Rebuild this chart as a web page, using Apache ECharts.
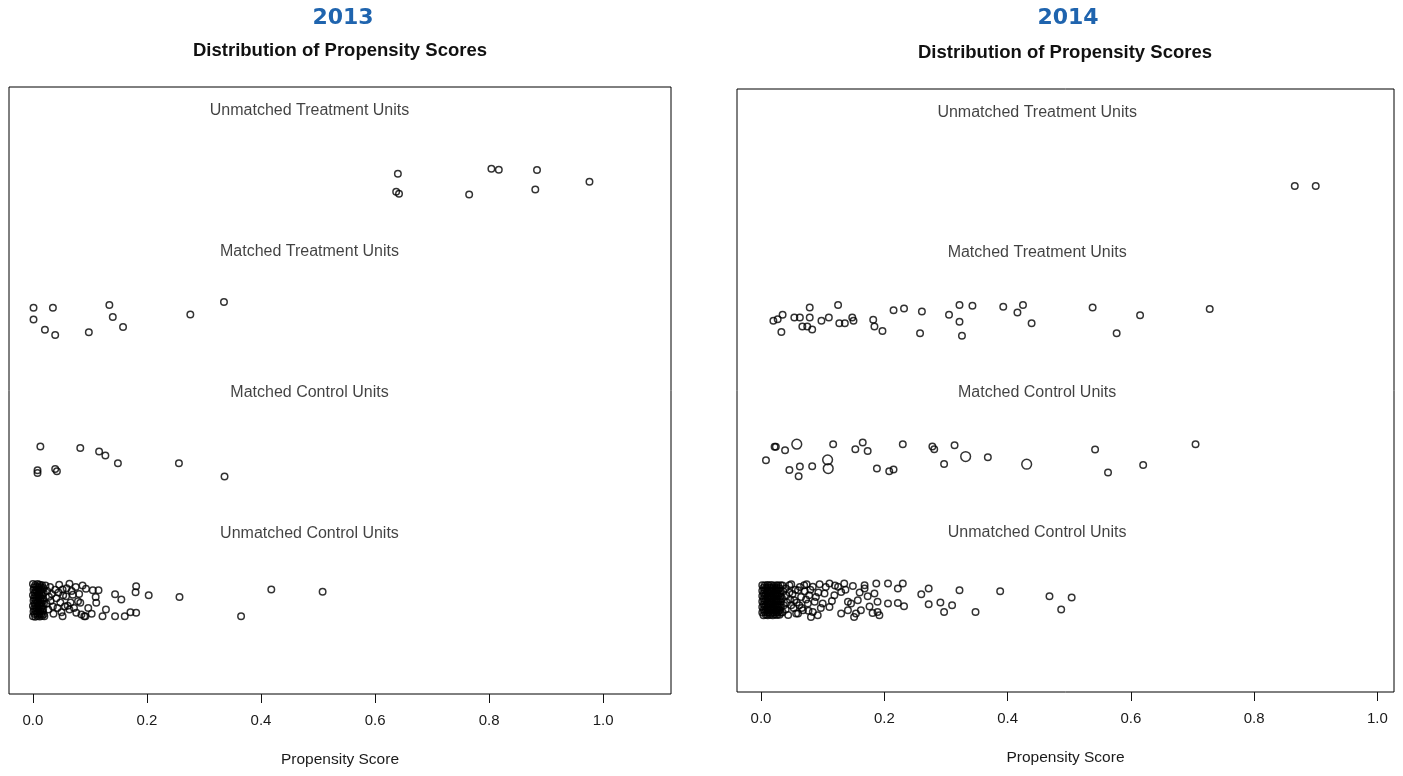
<!DOCTYPE html>
<html>
<head>
<meta charset="utf-8">
<script src="https://cdn.jsdelivr.net/npm/echarts@6/dist/echarts.min.js"></script>
<style>
  html, body { margin: 0; padding: 0; background: #fff; }
  #chart { width: 1403px; height: 776px; }
</style>
</head>
<body>
<div id="chart"></div>
<script>
// Propensity score jitter plots, one panel per year.
// Each point: [propensity score, vertical jitter offset from its group row, (optional) weight]

const years = ['2013', '2014'];
const xTicks = [0, 0.2, 0.4, 0.6, 0.8, 1.0];
const groupNames = ['Unmatched Treatment Units', 'Matched Treatment Units', 'Matched Control Units', 'Unmatched Control Units'];
const groupRows = [4, 3, 2, 1];

// ---------- 2013 ----------
const unmatchedTreat2013 = [
  [0.640, 0.021], [0.637, -0.106], [0.642, -0.121], [0.765, -0.125], [0.804, 0.057],
  [0.817, 0.050], [0.884, 0.048], [0.881, -0.090], [0.976, -0.035]
];
const matchedTreat2013 = [
  [0.001, 0.071], [0.035, 0.071], [0.001, -0.012], [0.021, -0.085], [0.039, -0.123],
  [0.098, -0.104], [0.134, 0.090], [0.140, 0.005], [0.158, -0.066], [0.276, 0.023], [0.335, 0.111]
];
const matchedCtrl2013 = [
  [0.013, 0.087], [0.083, 0.076], [0.116, 0.050], [0.127, 0.023], [0.149, -0.033],
  [0.256, -0.033], [0.336, -0.126], [0.008, -0.083], [0.008, -0.101], [0.039, -0.073], [0.042, -0.090]
];
const unmatchedCtrl2013 = [
  // dense core near zero
  [0.000, 0.110], [0.004, 0.104], [0.008, 0.111], [0.012, 0.106], [0.016, 0.101],
  [0.002, 0.088], [0.006, 0.091], [0.010, 0.085], [0.014, 0.089], [0.018, 0.083],
  [0.001, 0.069], [0.005, 0.066], [0.009, 0.072], [0.013, 0.064], [0.017, 0.070],
  [0.003, 0.049], [0.007, 0.053], [0.011, 0.046], [0.015, 0.051], [0.019, 0.044],
  [0.000, 0.031], [0.004, 0.028], [0.008, 0.033], [0.012, 0.026], [0.016, 0.030],
  [0.002, 0.011], [0.006, 0.014], [0.010, 0.008], [0.014, 0.012], [0.018, 0.006],
  [0.001, -0.008], [0.005, -0.005], [0.009, -0.011], [0.013, -0.006], [0.017, -0.010],
  [0.003, -0.027], [0.007, -0.024], [0.011, -0.030], [0.015, -0.025], [0.019, -0.029],
  [0.000, -0.046], [0.004, -0.043], [0.008, -0.049], [0.012, -0.044], [0.016, -0.047],
  [0.002, -0.065], [0.006, -0.062], [0.010, -0.068], [0.014, -0.063], [0.018, -0.066],
  [0.001, -0.084], [0.005, -0.081], [0.009, -0.087], [0.013, -0.082], [0.017, -0.085],
  [0.003, -0.102], [0.007, -0.099], [0.011, -0.105], [0.015, -0.100], [0.019, -0.104],
  [0.000, -0.118], [0.004, -0.121], [0.008, -0.116], [0.012, -0.120], [0.016, -0.117],
  // fringe
  [0.022, 0.100], [0.025, 0.060], [0.028, 0.020], [0.024, -0.030], [0.027, -0.070],
  [0.030, 0.090], [0.033, 0.040], [0.031, -0.010], [0.035, -0.050], [0.036, -0.100],
  [0.039, 0.070], [0.041, 0.010], [0.043, -0.060], [0.045, 0.050], [0.048, -0.020],
  [0.050, -0.090], [0.053, 0.030], [0.056, -0.050], [0.059, 0.080], [0.066, -0.020],
  [0.072, -0.060], [0.068, 0.060], [0.075, 0.090], [0.081, 0.040], [0.087, 0.100],
  [0.097, -0.060], [0.103, -0.100],
  // tail
  [0.064, 0.113], [0.093, 0.076], [0.105, 0.066], [0.115, 0.066], [0.110, 0.019],
  [0.111, -0.023], [0.083, -0.023], [0.144, 0.038], [0.155, 0.000], [0.181, 0.094],
  [0.180, 0.052], [0.203, 0.030], [0.257, 0.019], [0.418, 0.071], [0.508, 0.055],
  [0.365, -0.118], [0.122, -0.118], [0.128, -0.071], [0.144, -0.118], [0.161, -0.118],
  [0.171, -0.090], [0.181, -0.094], [0.090, -0.118], [0.076, -0.094], [0.052, -0.118],
  [0.064, -0.071], [0.079, -0.012], [0.070, 0.035], [0.058, 0.023], [0.052, 0.071],
  [0.046, 0.106], [0.061, -0.043], [0.085, -0.106], [0.092, -0.118], [0.020, -0.118]
];

// ---------- 2014 ----------
const unmatchedTreat2014 = [
  [0.866, -0.055], [0.900, -0.055]
];
const matchedTreat2014 = [
  [0.020, -0.019], [0.027, -0.007], [0.035, 0.024], [0.033, -0.098], [0.054, 0.005],
  [0.063, 0.005], [0.079, 0.076], [0.079, 0.005], [0.067, -0.059], [0.075, -0.059],
  [0.083, -0.081], [0.098, -0.019], [0.110, 0.005], [0.125, 0.095], [0.127, -0.036],
  [0.136, -0.036], [0.148, 0.005], [0.150, -0.019], [0.182, -0.012], [0.184, -0.059],
  [0.197, -0.091], [0.215, 0.057], [0.232, 0.069], [0.261, 0.048], [0.258, -0.107],
  [0.305, 0.024], [0.322, 0.095], [0.343, 0.088], [0.322, -0.026], [0.326, -0.126],
  [0.393, 0.081], [0.425, 0.095], [0.416, 0.041], [0.439, -0.036], [0.538, 0.076],
  [0.615, 0.021], [0.577, -0.107], [0.728, 0.066]
];
const matchedCtrl2014 = [
  [0.022, 0.081, 1], [0.024, 0.081, 1], [0.039, 0.057, 1], [0.058, 0.100, 1.5], [0.117, 0.100, 1],
  [0.153, 0.064, 1], [0.165, 0.112, 1], [0.173, 0.052, 1], [0.230, 0.100, 1], [0.278, 0.084, 1],
  [0.281, 0.064, 1], [0.314, 0.093, 1], [0.542, 0.062, 1], [0.705, 0.100, 1], [0.008, -0.014, 1],
  [0.108, -0.012, 1.5], [0.109, -0.074, 1.5], [0.046, -0.084, 1], [0.063, -0.059, 1], [0.061, -0.129, 1],
  [0.083, -0.057, 1], [0.188, -0.074, 1], [0.208, -0.093, 1], [0.215, -0.081, 1], [0.297, -0.041, 1],
  [0.332, 0.012, 1.5], [0.368, 0.007, 1], [0.431, -0.043, 1.5], [0.563, -0.102, 1], [0.620, -0.048, 1]
];
const unmatchedCtrl2014 = [
  // dense core near zero
  [0.002, 0.093], [0.006, 0.090], [0.010, 0.095], [0.013, 0.091], [0.017, 0.094], [0.021, 0.089], [0.025, 0.093], [0.028, 0.090], [0.032, 0.092],
  [0.004, 0.074], [0.008, 0.071], [0.011, 0.076], [0.015, 0.072], [0.019, 0.075], [0.023, 0.070], [0.026, 0.074], [0.030, 0.071],
  [0.002, 0.054], [0.006, 0.057], [0.010, 0.052], [0.013, 0.055], [0.017, 0.051], [0.021, 0.056], [0.025, 0.053], [0.028, 0.057], [0.032, 0.052],
  [0.004, 0.035], [0.008, 0.032], [0.011, 0.037], [0.015, 0.033], [0.019, 0.036], [0.023, 0.031], [0.026, 0.035], [0.030, 0.032],
  [0.002, 0.015], [0.006, 0.018], [0.010, 0.013], [0.013, 0.016], [0.017, 0.012], [0.021, 0.017], [0.025, 0.014], [0.028, 0.018], [0.032, 0.013],
  [0.004, -0.004], [0.008, -0.007], [0.011, -0.002], [0.015, -0.006], [0.019, -0.003], [0.023, -0.008], [0.026, -0.004], [0.030, -0.007],
  [0.002, -0.024], [0.006, -0.021], [0.010, -0.026], [0.013, -0.023], [0.017, -0.027], [0.021, -0.022], [0.025, -0.025], [0.028, -0.021], [0.032, -0.026],
  [0.004, -0.043], [0.008, -0.046], [0.011, -0.041], [0.015, -0.045], [0.019, -0.042], [0.023, -0.047], [0.026, -0.043], [0.030, -0.046],
  [0.002, -0.063], [0.006, -0.060], [0.010, -0.065], [0.013, -0.062], [0.017, -0.066], [0.021, -0.061], [0.025, -0.064], [0.028, -0.060], [0.032, -0.065],
  [0.004, -0.082], [0.008, -0.085], [0.011, -0.080], [0.015, -0.084], [0.019, -0.081], [0.023, -0.086], [0.026, -0.082], [0.030, -0.085],
  [0.002, -0.102], [0.006, -0.099], [0.010, -0.104], [0.013, -0.101], [0.017, -0.105], [0.021, -0.100], [0.025, -0.103], [0.028, -0.099], [0.032, -0.104],
  [0.004, -0.121], [0.008, -0.118], [0.011, -0.122], [0.015, -0.119], [0.019, -0.121], [0.023, -0.117], [0.026, -0.120], [0.030, -0.118],
  // fringe
  [0.035, 0.090], [0.036, 0.050], [0.034, 0.000], [0.037, -0.050], [0.035, -0.100],
  [0.040, 0.070], [0.041, 0.020], [0.042, -0.030], [0.040, -0.080], [0.044, -0.120],
  [0.046, 0.040], [0.047, -0.010], [0.049, 0.100], [0.051, 0.030], [0.053, -0.070],
  [0.056, 0.060], [0.058, -0.030], [0.060, -0.110], [0.063, 0.080], [0.066, -0.070],
  [0.071, 0.050], [0.073, -0.010], [0.074, 0.100], [0.077, -0.090], [0.080, 0.060],
  [0.093, 0.040], [0.097, -0.070], [0.105, 0.080], [0.115, -0.020], [0.120, 0.090],
  [0.137, 0.060], [0.160, 0.040], [0.176, -0.060],
  // tail
  [0.046, 0.093], [0.060, 0.057], [0.070, 0.093], [0.084, 0.081], [0.095, 0.100],
  [0.111, 0.105], [0.125, 0.081], [0.135, 0.105], [0.149, 0.088], [0.168, 0.093],
  [0.187, 0.105], [0.206, 0.105], [0.230, 0.105], [0.222, 0.069], [0.168, 0.069],
  [0.130, 0.045], [0.119, 0.021], [0.103, 0.034], [0.089, 0.009], [0.078, 0.021],
  [0.065, 0.009], [0.054, -0.014], [0.049, -0.050], [0.062, -0.050], [0.076, -0.038],
  [0.087, -0.026], [0.100, -0.038], [0.111, -0.062], [0.084, -0.098], [0.081, -0.134],
  [0.092, -0.121], [0.068, -0.086], [0.057, -0.109], [0.130, -0.109], [0.141, -0.086],
  [0.146, -0.038], [0.157, -0.014], [0.141, -0.026], [0.154, -0.109], [0.151, -0.134],
  [0.162, -0.086], [0.173, 0.014], [0.184, 0.034], [0.189, -0.026], [0.189, -0.098],
  [0.192, -0.121], [0.206, -0.038], [0.222, -0.034], [0.232, -0.057], [0.181, -0.105],
  [0.260, 0.029], [0.272, 0.069], [0.272, -0.043], [0.291, -0.031], [0.297, -0.098],
  [0.310, -0.050], [0.322, 0.057], [0.348, -0.098], [0.388, 0.050], [0.468, 0.014],
  [0.504, 0.005], [0.487, -0.081]
];

// Panel frames and label placement
const panels = [
  { year: '2013', groups: [unmatchedTreat2013, matchedTreat2013, matchedCtrl2013, unmatchedCtrl2013],
    grid: { left: 9, top: 87, width: 662, height: 607 }, xMin: -0.042, xMax: 1.119, labelX: 0.485,
    titleX: 343, subX: 340, titleY: 18, subY: 51 },
  { year: '2014', groups: [unmatchedTreat2014, matchedTreat2014, matchedCtrl2014, unmatchedCtrl2014],
    grid: { left: 737, top: 89, width: 657, height: 603 }, xMin: -0.039, xMax: 1.027, labelX: 0.448,
    titleX: 1068, subX: 1065, titleY: 18, subY: 53 }
];
const yMin = 0.33, yMax = 4.637;
const baseSize = 6.5;
const textFont = '"Liberation Sans", Arial, sans-serif';

const option = {
  animation: false,
  backgroundColor: '#fff',
  grid: [], xAxis: [], yAxis: [], series: [], graphic: []
};

panels.forEach((p, i) => {
  option.grid.push(Object.assign({ show: true, borderColor: '#000', borderWidth: 1, backgroundColor: 'transparent' }, p.grid));
  option.xAxis.push({
    type: 'value', gridIndex: i, min: p.xMin, max: p.xMax,
    axisLine: { show: false },
    splitLine: { show: false },
    axisTick: { show: true, customValues: xTicks, length: 9, inside: false, lineStyle: { color: '#111', width: 1 } },
    axisLabel: { customValues: xTicks, formatter: v => v.toFixed(1), margin: 19, color: '#1a1a1a', fontSize: 15, fontFamily: textFont },
    name: 'Propensity Score', nameLocation: 'middle', nameGap: 58,
    nameTextStyle: { color: '#1a1a1a', fontSize: 15.5, fontFamily: textFont }
  });
  option.yAxis.push({ type: 'value', gridIndex: i, min: yMin, max: yMax, show: false });

  p.groups.forEach((pts, g) => {
    option.series.push({
      type: 'scatter', xAxisIndex: i, yAxisIndex: i,
      name: p.year + ' ' + groupNames[g],
      symbol: 'circle',
      itemStyle: { color: 'rgba(0,0,0,0)', borderColor: '#000', borderWidth: 1.5 },
      emphasis: { disabled: true },
      data: pts.map(d => ({ value: [d[0], groupRows[g] + d[1]], symbolSize: baseSize * (d[2] || 1) }))
    });
  });

  // group captions above each row
  option.series.push({
    type: 'scatter', xAxisIndex: i, yAxisIndex: i, symbolSize: 0, silent: true,
    label: { show: true, position: 'inside', formatter: q => q.name, color: '#111', fontSize: 16, fontFamily: textFont },
    data: groupNames.map((n, g) => ({ name: n, value: [p.labelX, groupRows[g] + 0.47] }))
  });

  option.graphic.push(
    { type: 'text', x: p.titleX, y: p.titleY, style: { text: p.year, font: 'bold 22px "DejaVu Sans", Verdana, sans-serif', fill: '#1f64ae', align: 'center', verticalAlign: 'middle' } },
    { type: 'text', x: p.subX, y: p.subY, style: { text: 'Distribution of Propensity Scores', font: 'bold 18.5px ' + textFont, fill: '#111', align: 'center', verticalAlign: 'middle' } }
  );
});

const chart = echarts.init(document.getElementById('chart'), null, { renderer: 'canvas' });
chart.setOption(option);
</script>
</body>
</html>
